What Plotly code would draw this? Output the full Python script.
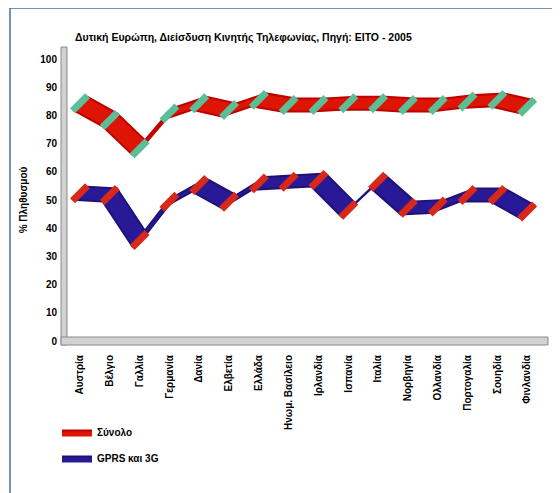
import plotly.graph_objects as go

countries = ["Αυστρία", "Βέλγιο", "Γαλλία", "Γερμανία", "Δανία", "Ελβετία", "Ελλάδα",
             "Ηνωμ. Βασίλειο", "Ιρλανδία", "Ισπανία", "Ιταλία", "Νορβηγία", "Ολλανδία",
             "Πορτογαλία", "Σουηδία", "Φινλανδία"]
total = [84.3, 78.4, 68.3, 80.7, 84.3, 81.9, 85.5, 83.7, 83.7, 84.3, 84.3, 83.7, 83.7, 84.9, 85.5, 83.1]
gprs3g = [52.4, 51.8, 35.8, 49.4, 55.3, 49.4, 55.9, 56.5, 57.1, 46.5, 56.5, 47.2, 47.7, 51.8, 51.8, 45.9]
series_names = ["Σύνολο", "GPRS και 3G"]
y_ticks = [0, 10, 20, 30, 40, 50, 60, 70, 80, 90, 100]

# page offset (browser body margin) compensation
OFF = 8
W, H = 560, 493
# target plot area in screenshot coords: left 66, right 548, top 59, bottom 341
ML = 66 - OFF
MT = 59 - OFF
MR = W - (548 - OFF)
MB = H - (341 - OFF)
pw, ph = W - ML - MR, H - MT - MB

def px(x):
    return (x - OFF - ML) / pw

def py(y):
    return (H - MB - (y - OFF)) / ph

xs = list(range(len(countries)))
DX, DY = 0.24, 2.3  # ribbon depth (3D effect)

fig = go.Figure()

def ribbon(vals, name, fill, edge, cap):
    fx = [x - DX for x in xs]
    fy = [v - DY for v in vals]
    bx = [x + DX for x in xs]
    by = [v + DY for v in vals]
    fig.add_trace(go.Scatter(
        x=fx + bx[::-1] + [fx[0]], y=fy + by[::-1] + [fy[0]],
        fill="toself", fillcolor=fill, mode="lines",
        line=dict(color=edge, width=2), name=name, showlegend=True,
        legendgroup=name, hoverinfo="skip"))
    fig.add_trace(go.Scatter(
        x=xs, y=vals, mode="markers", showlegend=False, legendgroup=name,
        marker=dict(symbol="line-ne", size=15, line=dict(color=cap, width=7)),
        hovertemplate="%{text}: %{y}<extra></extra>", text=countries))

ribbon(total, series_names[0], "rgb(222,20,4)", "rgb(190,0,0)", "rgb(90,190,150)")
ribbon(gprs3g, series_names[1], "rgb(40,26,150)", "rgb(30,18,120)", "rgb(215,40,25)")

shapes = [
    # outer border
    dict(type="rect", xref="paper", yref="paper", x0=px(10), x1=px(580), y0=py(520), y1=py(8),
         line=dict(color="rgb(70,110,170)", width=1.5), fillcolor="rgba(0,0,0,0)", layer="below"),
    # left wall
    dict(type="rect", xref="paper", yref="paper", x0=px(61), x1=px(67), y0=py(345), y1=py(47),
         line=dict(color="#8a8a8a", width=1), fillcolor="#d2d2d2", layer="below"),
    # floor
    dict(type="rect", xref="paper", yref="paper", x0=px(61), x1=px(548), y0=py(345), y1=py(337),
         line=dict(color="#8a8a8a", width=1), fillcolor="#d2d2d2", layer="below"),
]

fig.update_layout(
    width=W, height=H,
    margin=dict(l=ML, r=MR, t=MT, b=MB, autoexpand=False),
    paper_bgcolor="white", plot_bgcolor="white",
    font=dict(family="Liberation Sans", size=10, color="black", weight="bold"),
    title=dict(text="Δυτική Ευρώπη, Διείσδυση Κινητής Τηλεφωνίας, Πηγή: ΕΙΤΟ - 2005",
               x=px(75), xanchor="left", y=1 - (37 - OFF) / H, yanchor="middle", xref="paper",
               font=dict(size=10.5, color="black", weight="bold")),
    xaxis=dict(range=[-0.47, 15.7], tickmode="array", tickvals=xs, ticktext=countries,
               tickangle=-90, showgrid=False, zeroline=False, showline=False,
               ticks="", ticklabelstandoff=11, fixedrange=True, automargin=False),
    yaxis=dict(range=[0, 100], tickmode="array", tickvals=y_ticks, showgrid=False,
               zeroline=False, showline=False, ticks="", ticklabelstandoff=8,
               title=dict(text="% Πληθυσμού", standoff=10, font=dict(size=10, weight="bold")),
               fixedrange=True, automargin=False),
    legend=dict(x=px(57), y=py(418), xanchor="left", yanchor="top",
                bgcolor="rgba(0,0,0,0)", font=dict(size=10, weight="bold"), itemwidth=30,
                traceorder="grouped", tracegroupgap=7),
    shapes=shapes,
)

fig.write_html("out.html")
